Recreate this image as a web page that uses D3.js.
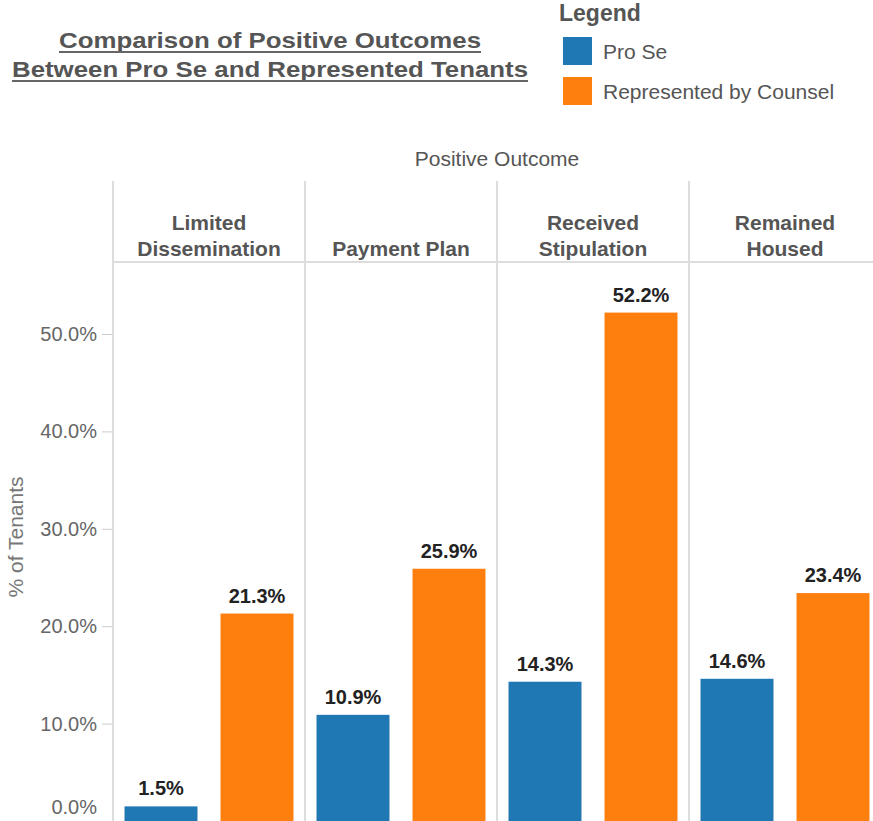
<!DOCTYPE html>
<html>
<head>
<meta charset="utf-8">
<script src="https://cdn.jsdelivr.net/npm/d3@7"></script>
<style>
  body { margin: 0; background: #fff; }
  svg { display: block; font-family: "Liberation Sans", Arial, sans-serif; }
</style>
</head>
<body>
<div id="vis"></div>
<script>
const outcomes = ["Limited Dissemination", "Payment Plan", "Received Stipulation", "Remained Housed"];
const outcomeLines = [["Limited", "Dissemination"], ["Payment Plan"], ["Received", "Stipulation"], ["Remained", "Housed"]];
const groups = ["Pro Se", "Represented by Counsel"];
const proSe = [1.5, 10.9, 14.3, 14.6];
const counsel = [21.3, 25.9, 52.2, 23.4];
const yTicks = [0, 10, 20, 30, 40, 50];
const colors = ["#1f77b4", "#ff7f0e"];

const W = 873, H = 821;
const plotLeft = 113, paneW = 192;
const headTop = 181, headBottom = 262, plotBottom = 821;

const svg = d3.select("#vis").append("svg")
    .attr("width", W)
    .attr("height", H);

// title (wide font in the original, so stretch to its width)
const title = [
    { text: "Comparison of Positive Outcomes", width: 422, y: 48 },
    { text: "Between Pro Se and Represented Tenants", width: 516, y: 77 }
];
title.forEach(t => {
    svg.append("text")
        .attr("x", 270)
        .attr("y", t.y)
        .attr("text-anchor", "middle")
        .attr("textLength", t.width)
        .attr("lengthAdjust", "spacingAndGlyphs")
        .style("font-size", "22px")
        .style("font-weight", "bold")
        .style("fill", "#555")
        .text(t.text);
    svg.append("line")
        .attr("x1", 270 - t.width / 2).attr("x2", 270 + t.width / 2)
        .attr("y1", t.y + 4).attr("y2", t.y + 4)
        .style("stroke", "#666")
        .style("stroke-width", 2);
});

// legend
svg.append("text")
    .attr("x", 559).attr("y", 21)
    .style("font-size", "23px")
    .style("font-weight", "bold")
    .style("fill", "#555")
    .text("Legend");

const leg = svg.selectAll(".leg")
    .data(groups)
  .enter().append("g")
    .attr("class", "leg")
    .attr("transform", (d, i) => `translate(563, ${37 + i * 40})`);

leg.append("rect")
    .attr("width", 29).attr("height", 28)
    .style("fill", (d, i) => colors[i]);

leg.append("text")
    .attr("x", 40).attr("y", 22)
    .style("font-size", "21px")
    .style("fill", "#555")
    .text(d => d);

// scales
const x = d3.scaleBand()
    .domain(outcomes)
    .range([plotLeft, plotLeft + paneW * outcomes.length]);

const xInner = d3.scaleBand()
    .domain(groups)
    .range([0, paneW])
    .paddingInner(0.24)
    .paddingOuter(0.12);

const y = d3.scaleLinear()
    .domain([0, 50])
    .range([plotBottom, plotBottom - 487]);

// column header
svg.append("text")
    .attr("x", plotLeft + paneW * 2)
    .attr("y", 166)
    .attr("text-anchor", "middle")
    .style("font-size", "21px")
    .style("fill", "#555")
    .text("Positive Outcome");

// pane lines
svg.selectAll(".pane-line")
    .data(outcomes)
  .enter().append("line")
    .attr("class", "pane-line")
    .attr("x1", d => x(d)).attr("x2", d => x(d))
    .attr("y1", headTop).attr("y2", H)
    .style("stroke", "#ddd")
    .style("stroke-width", 2);

svg.append("line")
    .attr("x1", plotLeft).attr("x2", W)
    .attr("y1", headBottom).attr("y2", headBottom)
    .style("stroke", "#ddd")
    .style("stroke-width", 2);

// header labels
const heads = svg.selectAll(".head")
    .data(outcomes)
  .enter().append("text")
    .attr("class", "head")
    .attr("text-anchor", "middle")
    .style("font-size", "21px")
    .style("font-weight", "bold")
    .style("fill", "#555");

heads.each(function(d, i) {
    const lines = outcomeLines[i];
    d3.select(this).selectAll("tspan")
        .data(lines)
      .enter().append("tspan")
        .attr("x", x(d) + paneW / 2)
        .attr("y", (l, j) => 256 - (lines.length - 1 - j) * 26)
        .text(l => l);
});

// y axis
const yAxis = svg.append("g")
    .attr("transform", `translate(${plotLeft - 1}, 0)`)
    .call(d3.axisLeft(y).tickValues(yTicks).tickFormat(d => d.toFixed(1) + "%").tickSize(10).tickPadding(5));

yAxis.select(".domain").remove();
yAxis.selectAll(".tick line").style("stroke", "#ccc");
yAxis.selectAll(".tick text")
    .style("font-size", "20px")
    .style("font-family", "Liberation Sans, Arial, sans-serif")
    .style("fill", "#666");
// keep 0.0% inside picture
yAxis.selectAll(".tick text").filter(d => d === 0).attr("dy", "-0.38em");

svg.append("text")
    .attr("transform", "translate(23, 537) rotate(-90)")
    .attr("text-anchor", "middle")
    .style("font-size", "21px")
    .style("fill", "#777")
    .text("% of Tenants");

// bars
const data = outcomes.map((o, i) => ({ outcome: o, values: [proSe[i], counsel[i]] }));

const pane = svg.selectAll(".pane")
    .data(data)
  .enter().append("g")
    .attr("class", "pane")
    .attr("transform", d => `translate(${x(d.outcome)}, 0)`);

pane.selectAll("rect")
    .data(d => d.values.map((v, i) => ({ group: groups[i], value: v, i })))
  .enter().append("rect")
    .attr("x", d => xInner(d.group))
    .attr("width", xInner.bandwidth())
    .attr("y", d => y(d.value))
    .attr("height", d => y(0) - y(d.value))
    .style("fill", d => colors[d.i]);

pane.selectAll(".val")
    .data(d => d.values.map((v, i) => ({ group: groups[i], value: v })))
  .enter().append("text")
    .attr("class", "val")
    .attr("x", d => xInner(d.group) + xInner.bandwidth() / 2)
    .attr("y", d => y(d.value) - 11)
    .attr("text-anchor", "middle")
    .style("font-size", "20px")
    .style("font-weight", "bold")
    .style("fill", "#222")
    .text(d => d.value.toFixed(1) + "%");
</script>
</body>
</html>
